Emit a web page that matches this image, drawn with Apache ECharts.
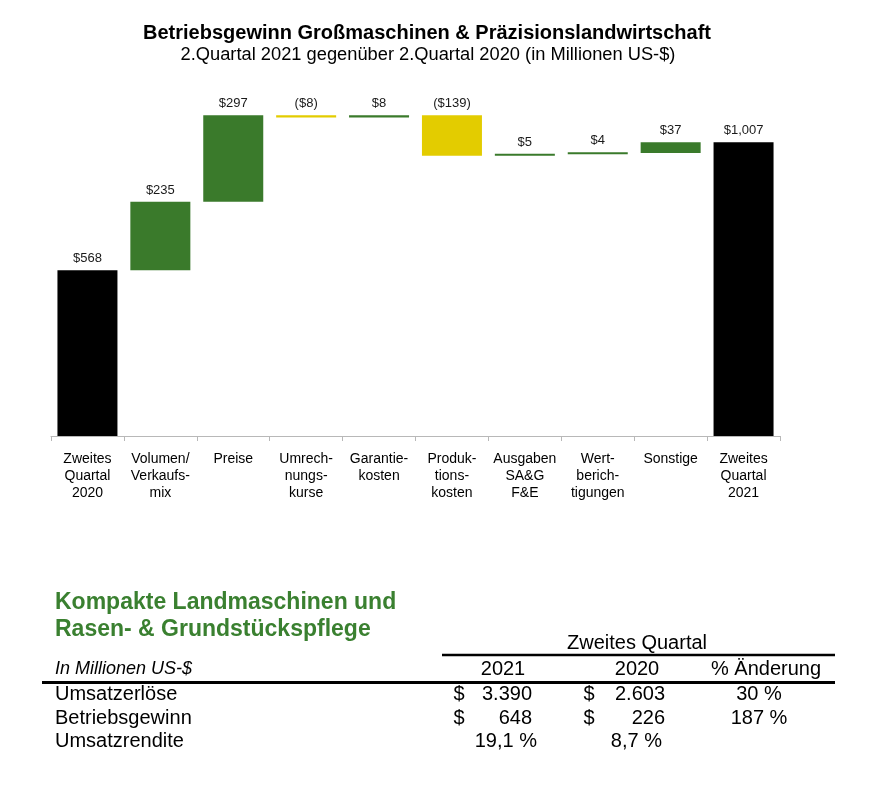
<!DOCTYPE html>
<html>
<head>
<meta charset="utf-8">
<script src="https://cdn.jsdelivr.net/npm/echarts@6/dist/echarts.min.js"></script>
<style>
html,body{margin:0;padding:0;background:#fff;}
#chart{width:882px;height:796px;}
</style>
</head>
<body>
<div id="chart"></div>
<script>
// ---- Data ----
const titleText = 'Betriebsgewinn Großmaschinen & Präzisionslandwirtschaft';
const subtitleText = '2.Quartal 2021 gegenüber 2.Quartal 2020 (in Millionen US-$)';
const categories = ['Zweites\nQuartal\n2020', 'Volumen/\nVerkaufs-\nmix', 'Preise', 'Umrech-\nnungs-\nkurse', 'Garantie-\nkosten', 'Produk-\ntions-\nkosten', 'Ausgaben\nSA&G\nF&E', 'Wert-\nberich-\ntigungen', 'Sonstige', 'Zweites\nQuartal\n2021'];
const deltas = [568, 235, 297, -8, 8, -139, 5, 4, 37, 1007];
const isTotal = [true, false, false, false, false, false, false, false, false, true];

const tableRowLabels = ['Umsatzerlöse', 'Betriebsgewinn', 'Umsatzrendite'];
const tableDollar = [true, true, false];
const col2021 = ['3.390', '648', '19,1 %'];
const col2020 = ['2.603', '226', '8,7 %'];
const colChange = ['30 %', '187 %', ''];

// ---- Waterfall build ----
const FONT = '"Liberation Sans", Arial, sans-serif';
const GREEN = '#3a7a2b', YELLOW = '#e3cc00', BLACK = '#000000';
const baseData = [], visData = [];
let running = 0;
deltas.forEach((d, i) => {
  if (isTotal[i]) {
    baseData.push(0);
    visData.push({ value: d, itemStyle: { color: BLACK } });
    running = d;
  } else {
    const start = running, end = running + d;
    baseData.push(Math.min(start, end));
    visData.push({ value: Math.abs(d), itemStyle: { color: d < 0 ? YELLOW : GREEN } });
    running = end;
  }
});
function fmt(v) {
  const s = '$' + Math.abs(v).toLocaleString('en-US');
  return v < 0 ? '(' + s + ')' : s;
}

// ---- Title + table graphics ----
const g = [];
function txt(x, y, text, opts) {
  g.push({ type: 'text', x: x, y: y, silent: true,
    style: Object.assign({ text: text, fontFamily: FONT, fill: '#000', fontSize: 20, align: 'left', verticalAlign: 'middle' }, opts || {}) });
}
function line(x1, y, x2, w) {
  g.push({ type: 'line', silent: true, shape: { x1: x1, y1: y, x2: x2, y2: y }, style: { stroke: '#000', lineWidth: w } });
}
txt(427, 33, titleText, { align: 'center', fontSize: 20, fontWeight: 'bold' });
txt(428, 55, subtitleText, { align: 'center', fontSize: 18.3 });

txt(55, 603, 'Kompakte Landmaschinen und', { fontSize: 23, fontWeight: 'bold', fill: '#3a8030' });
txt(55, 630, 'Rasen- & Grundstückspflege', { fontSize: 23, fontWeight: 'bold', fill: '#3a8030' });
txt(637, 643, 'Zweites Quartal', { align: 'center' });
line(442, 655, 835, 2.5);
txt(55, 669, 'In Millionen US-$', { fontSize: 18, fontStyle: 'italic' });
txt(503, 669, '2021', { align: 'center' });
txt(637, 669, '2020', { align: 'center' });
txt(766, 669, '% Änderung', { align: 'center' });
line(42, 682.5, 835, 3);
const rowY = [694, 718, 741];
tableRowLabels.forEach((lab, i) => {
  const y = rowY[i];
  txt(55, y, lab);
  if (tableDollar[i]) {
    txt(459, y, '$', { align: 'center' });
    txt(589, y, '$', { align: 'center' });
    txt(532, y, col2021[i], { align: 'right' });
    txt(665, y, col2020[i], { align: 'right' });
  } else {
    txt(537, y, col2021[i], { align: 'right' });
    txt(662, y, col2020[i], { align: 'right' });
  }
  if (colChange[i]) txt(759, y, colChange[i], { align: 'center' });
});

const chart = echarts.init(document.getElementById('chart'), null, { renderer: 'canvas' });
chart.setOption({
  animation: false,
  backgroundColor: '#fff',
  grid: { left: 51, right: 102, top: 86, bottom: 360, containLabel: false },
  xAxis: {
    type: 'category', data: categories,
    axisLine: { lineStyle: { color: '#b8b8b8', width: 1 } },
    axisTick: { show: true, length: 5, lineStyle: { color: '#b8b8b8' } },
    axisLabel: { interval: 0, margin: 15, fontFamily: FONT, fontSize: 14, lineHeight: 17, color: '#000', align: 'center' }
  },
  yAxis: { type: 'value', min: 0, max: 1200, show: false, splitLine: { show: false } },
  series: [
    { type: 'bar', stack: 'w', data: baseData, barWidth: 60, itemStyle: { color: 'transparent' }, silent: true },
    { type: 'bar', stack: 'w', data: visData, barWidth: 60, barMinHeight: 2,
      label: { show: true, position: 'top', distance: 5, fontFamily: FONT, fontSize: 13, color: '#1a1a1a',
        formatter: p => fmt(deltas[p.dataIndex]) } }
  ],
  graphic: g
});
</script>
</body>
</html>
